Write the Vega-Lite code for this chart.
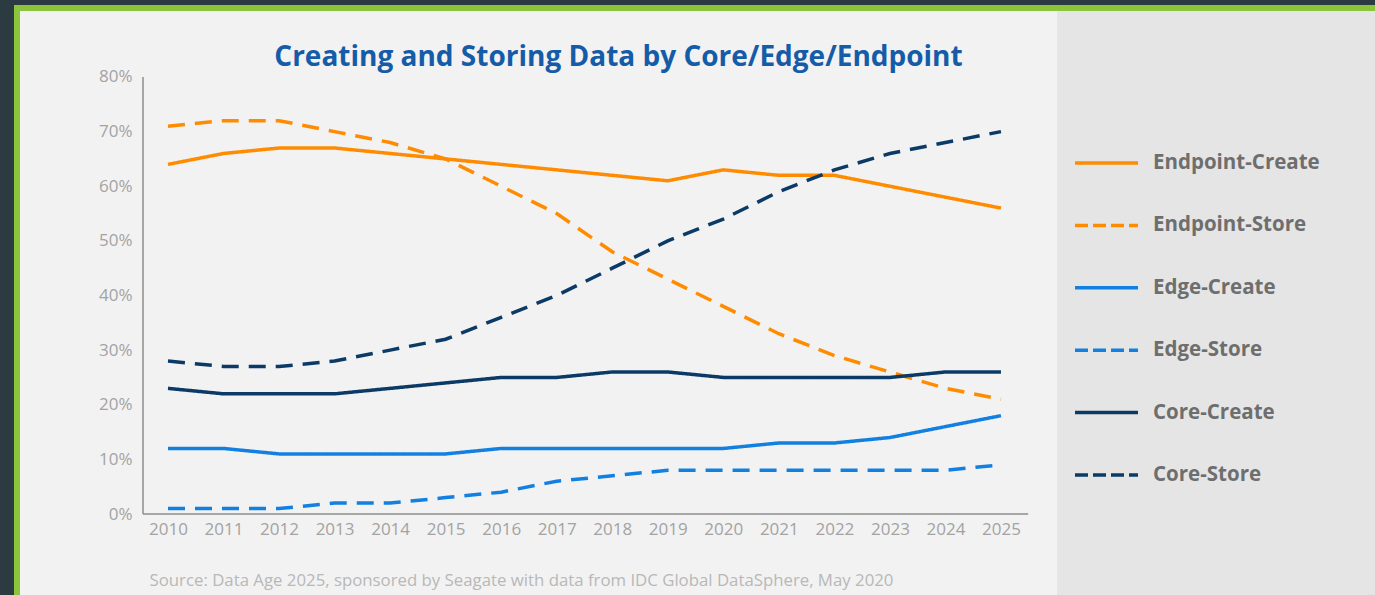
{
  "$schema": "https://vega.github.io/schema/vega-lite/v6.json",
  "background": "#2c3a42",
  "padding": {"left": 14, "top": 5, "right": 0, "bottom": 0},
  "autosize": {"type": "pad"},
  "spacing": 0,
  "config": {"font": "Open Sans", "view": {"stroke": null}},
  "datasets": {
    "shares": [
      {"year": 2010, "series": "Endpoint-Create", "value": 64},
      {"year": 2011, "series": "Endpoint-Create", "value": 66},
      {"year": 2012, "series": "Endpoint-Create", "value": 67},
      {"year": 2013, "series": "Endpoint-Create", "value": 67},
      {"year": 2014, "series": "Endpoint-Create", "value": 66},
      {"year": 2015, "series": "Endpoint-Create", "value": 65},
      {"year": 2016, "series": "Endpoint-Create", "value": 64},
      {"year": 2017, "series": "Endpoint-Create", "value": 63},
      {"year": 2018, "series": "Endpoint-Create", "value": 62},
      {"year": 2019, "series": "Endpoint-Create", "value": 61},
      {"year": 2020, "series": "Endpoint-Create", "value": 63},
      {"year": 2021, "series": "Endpoint-Create", "value": 62},
      {"year": 2022, "series": "Endpoint-Create", "value": 62},
      {"year": 2023, "series": "Endpoint-Create", "value": 60},
      {"year": 2024, "series": "Endpoint-Create", "value": 58},
      {"year": 2025, "series": "Endpoint-Create", "value": 56},
      {"year": 2010, "series": "Endpoint-Store", "value": 71},
      {"year": 2011, "series": "Endpoint-Store", "value": 72},
      {"year": 2012, "series": "Endpoint-Store", "value": 72},
      {"year": 2013, "series": "Endpoint-Store", "value": 70},
      {"year": 2014, "series": "Endpoint-Store", "value": 68},
      {"year": 2015, "series": "Endpoint-Store", "value": 65},
      {"year": 2016, "series": "Endpoint-Store", "value": 60},
      {"year": 2017, "series": "Endpoint-Store", "value": 55},
      {"year": 2018, "series": "Endpoint-Store", "value": 48},
      {"year": 2019, "series": "Endpoint-Store", "value": 43},
      {"year": 2020, "series": "Endpoint-Store", "value": 38},
      {"year": 2021, "series": "Endpoint-Store", "value": 33},
      {"year": 2022, "series": "Endpoint-Store", "value": 29},
      {"year": 2023, "series": "Endpoint-Store", "value": 26},
      {"year": 2024, "series": "Endpoint-Store", "value": 23},
      {"year": 2025, "series": "Endpoint-Store", "value": 21},
      {"year": 2010, "series": "Edge-Create", "value": 12},
      {"year": 2011, "series": "Edge-Create", "value": 12},
      {"year": 2012, "series": "Edge-Create", "value": 11},
      {"year": 2013, "series": "Edge-Create", "value": 11},
      {"year": 2014, "series": "Edge-Create", "value": 11},
      {"year": 2015, "series": "Edge-Create", "value": 11},
      {"year": 2016, "series": "Edge-Create", "value": 12},
      {"year": 2017, "series": "Edge-Create", "value": 12},
      {"year": 2018, "series": "Edge-Create", "value": 12},
      {"year": 2019, "series": "Edge-Create", "value": 12},
      {"year": 2020, "series": "Edge-Create", "value": 12},
      {"year": 2021, "series": "Edge-Create", "value": 13},
      {"year": 2022, "series": "Edge-Create", "value": 13},
      {"year": 2023, "series": "Edge-Create", "value": 14},
      {"year": 2024, "series": "Edge-Create", "value": 16},
      {"year": 2025, "series": "Edge-Create", "value": 18},
      {"year": 2010, "series": "Edge-Store", "value": 1},
      {"year": 2011, "series": "Edge-Store", "value": 1},
      {"year": 2012, "series": "Edge-Store", "value": 1},
      {"year": 2013, "series": "Edge-Store", "value": 2},
      {"year": 2014, "series": "Edge-Store", "value": 2},
      {"year": 2015, "series": "Edge-Store", "value": 3},
      {"year": 2016, "series": "Edge-Store", "value": 4},
      {"year": 2017, "series": "Edge-Store", "value": 6},
      {"year": 2018, "series": "Edge-Store", "value": 7},
      {"year": 2019, "series": "Edge-Store", "value": 8},
      {"year": 2020, "series": "Edge-Store", "value": 8},
      {"year": 2021, "series": "Edge-Store", "value": 8},
      {"year": 2022, "series": "Edge-Store", "value": 8},
      {"year": 2023, "series": "Edge-Store", "value": 8},
      {"year": 2024, "series": "Edge-Store", "value": 8},
      {"year": 2025, "series": "Edge-Store", "value": 9},
      {"year": 2010, "series": "Core-Create", "value": 23},
      {"year": 2011, "series": "Core-Create", "value": 22},
      {"year": 2012, "series": "Core-Create", "value": 22},
      {"year": 2013, "series": "Core-Create", "value": 22},
      {"year": 2014, "series": "Core-Create", "value": 23},
      {"year": 2015, "series": "Core-Create", "value": 24},
      {"year": 2016, "series": "Core-Create", "value": 25},
      {"year": 2017, "series": "Core-Create", "value": 25},
      {"year": 2018, "series": "Core-Create", "value": 26},
      {"year": 2019, "series": "Core-Create", "value": 26},
      {"year": 2020, "series": "Core-Create", "value": 25},
      {"year": 2021, "series": "Core-Create", "value": 25},
      {"year": 2022, "series": "Core-Create", "value": 25},
      {"year": 2023, "series": "Core-Create", "value": 25},
      {"year": 2024, "series": "Core-Create", "value": 26},
      {"year": 2025, "series": "Core-Create", "value": 26},
      {"year": 2010, "series": "Core-Store", "value": 28},
      {"year": 2011, "series": "Core-Store", "value": 27},
      {"year": 2012, "series": "Core-Store", "value": 27},
      {"year": 2013, "series": "Core-Store", "value": 28},
      {"year": 2014, "series": "Core-Store", "value": 30},
      {"year": 2015, "series": "Core-Store", "value": 32},
      {"year": 2016, "series": "Core-Store", "value": 36},
      {"year": 2017, "series": "Core-Store", "value": 40},
      {"year": 2018, "series": "Core-Store", "value": 45},
      {"year": 2019, "series": "Core-Store", "value": 50},
      {"year": 2020, "series": "Core-Store", "value": 54},
      {"year": 2021, "series": "Core-Store", "value": 59},
      {"year": 2022, "series": "Core-Store", "value": 63},
      {"year": 2023, "series": "Core-Store", "value": 66},
      {"year": 2024, "series": "Core-Store", "value": 68},
      {"year": 2025, "series": "Core-Store", "value": 70}
    ],
    "series": [
      {"series": "Endpoint-Create"},
      {"series": "Endpoint-Store"},
      {"series": "Edge-Create"},
      {"series": "Edge-Store"},
      {"series": "Core-Create"},
      {"series": "Core-Store"}
    ]
  },
  "vconcat": [
    {
      "width": 1361,
      "height": 6,
      "view": {"fill": "#8cc43c", "stroke": null},
      "data": {"values": []},
      "mark": "rect"
    },
    {
      "spacing": 0,
      "resolve": {"scale": {"x": "independent", "y": "independent", "color": "independent", "strokeDash": "independent"}},
      "hconcat": [
        {
          "width": 6,
          "height": 584,
          "view": {"fill": "#8cc43c", "stroke": null},
          "data": {"values": []},
          "mark": "rect"
        },
        {
          "width": 1037,
          "height": 584,
          "view": {"fill": "#f2f2f2", "stroke": null},
          "title": {
            "text": "Creating and Storing Data by Core/Edge/Endpoint",
            "anchor": "middle",
            "frame": "group",
            "offset": -83,
            "dx": 80,
            "baseline": "alphabetic",
            "font": "Open Sans",
            "fontSize": 28,
            "fontWeight": "bold",
            "color": "#155ca8"
          },
          "layer": [
            {
              "data": {"name": "shares"},
              "mark": {"type": "line", "strokeWidth": 3.5, "interpolate": "linear"},
              "encoding": {
                "x": {
                  "field": "year",
                  "type": "quantitative",
                  "scale": {"domain": [2007.335, 2026.009], "nice": false, "zero": false},
                  "axis": {
                    "orient": "bottom",
                    "offset": -81,
                    "values": [2010, 2011, 2012, 2013, 2014, 2015, 2016, 2017, 2018, 2019, 2020, 2021, 2022, 2023, 2024, 2025],
                    "format": "d",
                    "domain": false,
                    "ticks": false,
                    "grid": false,
                    "labelFont": "Open Sans",
                    "labelFontSize": 17,
                    "labelColor": "#a3a3a3",
                    "labelPadding": 7,
                    "labelFlush": false,
                    "labelOverlap": false,
                    "title": "Source: Data Age 2025, sponsored by Seagate with data from IDC Global DataSphere, May 2020",
                    "titleFont": "Open Sans",
                    "titleFontSize": 16.8,
                    "titleFontWeight": "normal",
                    "titleColor": "#b8b8b8",
                    "titleAnchor": "start",
                    "titleAlign": "left",
                    "titleBaseline": "alphabetic",
                    "titleX": 129,
                    "titleY": 71
                  }
                },
                "y": {
                  "field": "value",
                  "type": "quantitative",
                  "scale": {"domain": [-14.828, 92.082], "nice": false, "zero": false},
                  "axis": {
                    "orient": "left",
                    "offset": -123,
                    "values": [0, 10, 20, 30, 40, 50, 60, 70, 80],
                    "labelExpr": "datum.value + '%'",
                    "domain": false,
                    "ticks": false,
                    "grid": false,
                    "labelFont": "Open Sans",
                    "labelFontSize": 17,
                    "labelColor": "#a3a3a3",
                    "labelPadding": 11,
                    "title": null
                  }
                },
                "color": {
                  "field": "series",
                  "type": "nominal",
                  "scale": {
                    "domain": ["Endpoint-Create", "Endpoint-Store", "Edge-Create", "Edge-Store", "Core-Create", "Core-Store"],
                    "range": ["#ff8c00", "#ff8c00", "#1280e0", "#1280e0", "#0c3a66", "#0c3a66"]
                  },
                  "legend": null
                },
                "strokeDash": {
                  "field": "series",
                  "type": "nominal",
                  "scale": {
                    "domain": ["Endpoint-Create", "Endpoint-Store", "Edge-Create", "Edge-Store", "Core-Create", "Core-Store"],
                    "range": [[1, 0], [17, 10], [1, 0], [17, 10], [1, 0], [17, 10]]
                  },
                  "legend": null
                }
              }
            },
            {
              "data": {"values": [{}]},
              "mark": {"type": "rule", "color": "#8c8c8c", "strokeWidth": 1.5},
              "encoding": {
                "x": {"datum": 2009.55, "type": "quantitative"},
                "y": {"datum": 0, "type": "quantitative"},
                "y2": {"datum": 80}
              }
            },
            {
              "data": {"values": [{}]},
              "mark": {"type": "rule", "color": "#8c8c8c", "strokeWidth": 1.5},
              "encoding": {
                "x": {"datum": 2009.55, "type": "quantitative"},
                "x2": {"datum": 2025.49},
                "y": {"datum": 0, "type": "quantitative"}
              }
            }
          ]
        },
        {
          "width": 318,
          "height": 584,
          "view": {"fill": "#e5e5e5", "stroke": null},
          "data": {"name": "series"},
          "layer": [
            {
              "mark": {"type": "rule", "strokeWidth": 3.5},
              "encoding": {
                "x": {"datum": 18, "type": "quantitative", "scale": {"domain": [0, 318], "nice": false, "zero": false}, "axis": null},
                "x2": {"datum": 81},
                "y": {
                  "field": "series",
                  "type": "nominal",
                  "sort": ["Endpoint-Create", "Endpoint-Store", "Edge-Create", "Edge-Store", "Core-Create", "Core-Store"],
                  "scale": {"type": "point", "range": [152, 464], "padding": 0},
                  "axis": null
                },
                "color": {
                  "field": "series",
                  "type": "nominal",
                  "scale": {
                    "domain": ["Endpoint-Create", "Endpoint-Store", "Edge-Create", "Edge-Store", "Core-Create", "Core-Store"],
                    "range": ["#ff8c00", "#ff8c00", "#1280e0", "#1280e0", "#0c3a66", "#0c3a66"]
                  },
                  "legend": null
                },
                "strokeDash": {
                  "field": "series",
                  "type": "nominal",
                  "scale": {
                    "domain": ["Endpoint-Create", "Endpoint-Store", "Edge-Create", "Edge-Store", "Core-Create", "Core-Store"],
                    "range": [[1, 0], [13, 5], [1, 0], [13, 5], [1, 0], [13, 5]]
                  },
                  "legend": null
                }
              }
            },
            {
              "mark": {"type": "text", "align": "left", "baseline": "middle", "font": "Open Sans", "fontSize": 20.5, "fontWeight": "bold", "color": "#6e6e6e"},
              "encoding": {
                "x": {"datum": 96, "type": "quantitative"},
                "y": {
                  "field": "series",
                  "type": "nominal",
                  "sort": ["Endpoint-Create", "Endpoint-Store", "Edge-Create", "Edge-Store", "Core-Create", "Core-Store"]
                },
                "text": {"field": "series"}
              }
            }
          ]
        }
      ]
    }
  ]
}
